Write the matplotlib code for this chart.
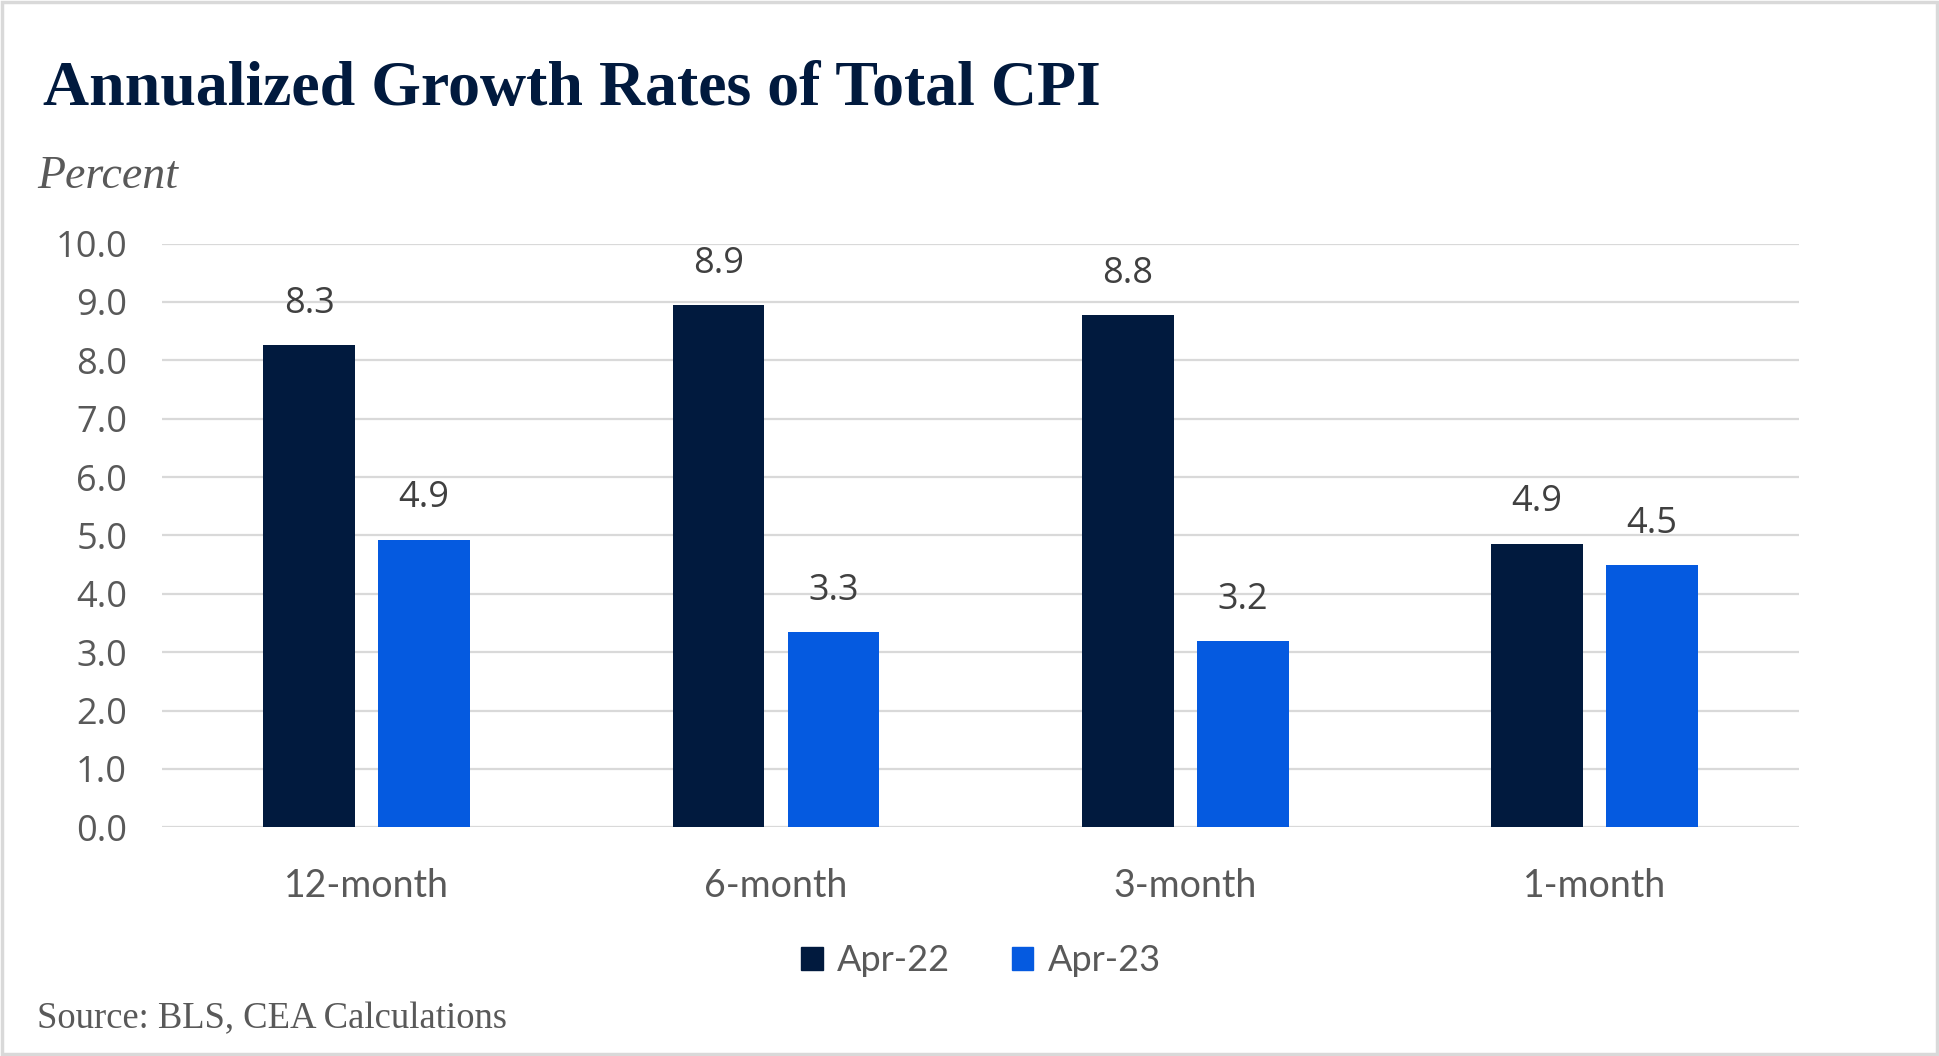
import matplotlib
matplotlib.use('Agg')
import matplotlib.pyplot as plt
import numpy as np
from matplotlib.patches import Rectangle, Patch

# data
periods = ['12-month', '6-month', '3-month', '1-month']
apr22 = [8.26, 8.94, 8.77, 4.86]
apr23 = [4.93, 3.34, 3.19, 4.49]
series_names = ['Apr-22', 'Apr-23']
yticks = np.arange(0, 10.1, 1.0)

navy = '#011A3E'
blue = '#055AE0'
grey_txt = '#595959'
grid_col = '#D9D9D9'

fig = plt.figure(figsize=(19.39, 10.56), dpi=100)
ax = fig.add_axes([0.0835, 0.2166, 0.8445, 0.5527])

x = np.arange(len(periods))
w = 0.224
gap = 0.057
off = (w + gap) / 2
b1 = ax.bar(x - off, apr22, width=w, color=navy, zorder=3)
b2 = ax.bar(x + off, apr23, width=w, color=blue, zorder=3)

for bars, vals in ((b1, apr22), (b2, apr23)):
    for r, v in zip(bars, vals):
        ax.text(r.get_x() + r.get_width() / 2, v + 0.40, '%.1f' % v,
                ha='center', va='bottom', fontsize=26, color='#404040',
                family='Open Sans')

ax.set_xlim(-0.5, len(periods) - 0.5)
ax.set_ylim(0, 10)
ax.set_yticks(yticks)
ax.set_yticklabels(['%.1f' % t for t in yticks], family='Open Sans',
                   fontsize=26, color=grey_txt)
ax.set_xticks(x)
ax.set_xticklabels(periods, family='Lato', fontsize=27, color=grey_txt)
ax.tick_params(axis='both', length=0)
ax.tick_params(axis='y', pad=25)
ax.tick_params(axis='x', pad=29)
ax.grid(axis='y', color=grid_col, linewidth=1.6, zorder=0)
for s in ax.spines.values():
    s.set_visible(False)

handles = [Patch(color=navy), Patch(color=blue)]
leg = fig.legend(handles, series_names, loc='center', bbox_to_anchor=(0.506, 0.090),
                 ncol=2, frameon=False, prop={'family': 'Lato', 'size': 26},
                 handlelength=0.6, handleheight=0.6, handletextpad=0.4,
                 columnspacing=1.7)
for t in leg.get_texts():
    t.set_color(grey_txt)

fig.text(0.022, 0.915, 'Annualized Growth Rates of Total CPI', family='Liberation Serif',
         weight='bold', fontsize=46, color=navy, va='center', ha='left')
fig.text(0.019, 0.833, 'Percent', family='Liberation Serif', style='italic',
         fontsize=33, color=grey_txt, va='center', ha='left')
fig.text(0.019, 0.035, 'Source: BLS, CEA Calculations', family='Liberation Serif',
         fontsize=26.4, color=grey_txt, va='center', ha='left')

fig.patches.append(Rectangle((0.001, 0.002), 0.998, 0.996, transform=fig.transFigure,
                             fill=False, edgecolor=grid_col, linewidth=2.5))

fig.savefig('out.png', dpi=100)
